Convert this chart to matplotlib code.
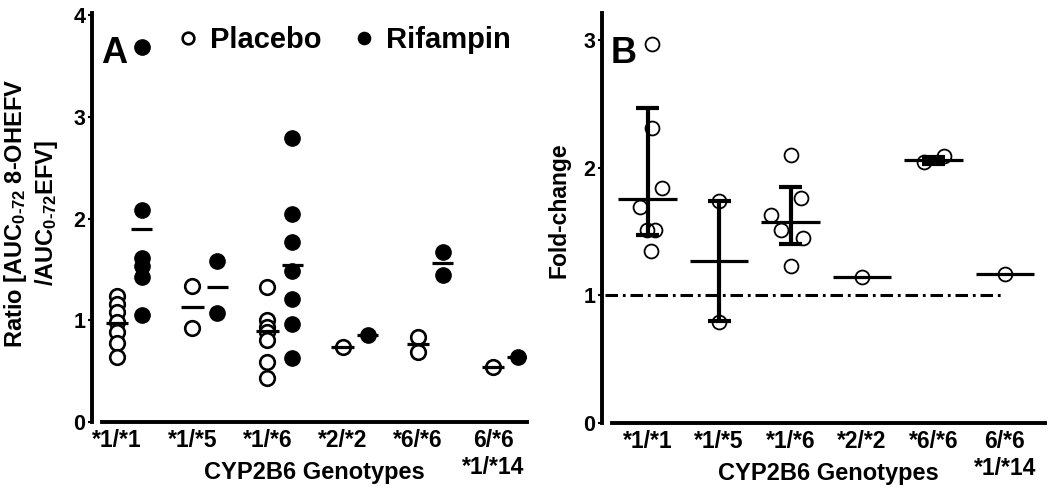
import numpy as np
import matplotlib
matplotlib.use("Agg")
import matplotlib.pyplot as plt

plt.rcParams['font.family'] = ['Liberation Sans', 'DejaVu Sans']
plt.rcParams['font.weight'] = 'bold'
plt.rcParams['axes.labelweight'] = 'bold'
plt.rcParams['mathtext.fontset'] = 'custom'
plt.rcParams['mathtext.rm'] = 'Liberation Sans:bold'
plt.rcParams['mathtext.bf'] = 'Liberation Sans:bold'
plt.rcParams['mathtext.default'] = 'bf'
plt.rcParams['lines.scale_dashes'] = False

genotypes = ['*1/*1', '*1/*5', '*1/*6', '*2/*2', '*6/*6', '6/*6\n*1/*14']

# Panel A: AUC ratio 8-OHEFV / EFV, each subject
placebo = [[1.24, 1.16, 1.08, 0.98, 0.88, 0.78, 0.64],
           [1.34, 0.92],
           [1.33, 1.00, 0.93, 0.88, 0.81, 0.59, 0.43],
           [0.74],
           [0.84, 0.69],
           [0.54]]
rifampin = [[3.69, 2.08, 1.61, 1.53, 1.43, 1.05],
            [1.58, 1.07],
            [2.79, 2.04, 1.77, 1.48, 1.21, 0.96, 0.63],
            [0.86],
            [1.67, 1.44],
            [0.64]]
placebo_mean = [0.97, 1.13, 0.89, 0.74, 0.77, 0.54]
rifampin_mean = [1.90, 1.33, 1.54, 0.86, 1.56, 0.64]

# Panel B: fold-change (rifampin / placebo)
fold_change = [[2.97, 2.31, 1.84, 1.69, 1.51, 1.51, 1.35],
               [1.74, 0.79],
               [2.10, 1.76, 1.63, 1.51, 1.45, 1.23],
               [1.14],
               [2.04, 2.09],
               [1.17]]
fold_jitter = [[0.06, 0.06, 0.20, -0.11, -0.01, 0.10, 0.04],
               [0.0, 0.0],
               [0.01, 0.15, -0.27, -0.13, 0.17, 0.01],
               [0.0],
               [-0.14, 0.15],
               [0.0]]
fold_median = [1.75, 1.27, 1.57, 1.14, 2.06, 1.17]
fold_lo = [1.47, 0.80, 1.40, np.nan, 2.03, np.nan]
fold_hi = [2.47, 1.74, 1.85, np.nan, 2.08, np.nan]

W, H = 1050, 494
fig = plt.figure(figsize=(W / 100, H / 100), dpi=100)
fig.patch.set_facecolor('white')


def px_rect(x0, x1, y_top, y_bot):
    return [x0 / W, (H - y_bot) / H, (x1 - x0) / W, (y_bot - y_top) / H]


def style_axes(ax):
    for s in ['top', 'right']:
        ax.spines[s].set_visible(False)
    ax.spines['left'].set_position(('outward', 7.5))
    ax.spines['left'].set_linewidth(2.8)
    ax.spines['bottom'].set_linewidth(2.8)
    ax.tick_params(axis='y', length=3, width=1.5, pad=1.5, labelsize=15.5)
    ax.tick_params(axis='x', length=0, pad=5, labelsize=16.5)
    ax.set_xticks(range(len(genotypes)))
    ax.set_xticklabels(genotypes, linespacing=1.2)
    ax.set_xlabel('CYP2B6 Genotypes', fontsize=17, fontweight='bold')


x = np.arange(len(genotypes))

# ---- panel A
axA = fig.add_axes(px_rect(102, 527, 13, 422))
style_axes(axA)
axA.set_xlim(-0.2, 5.45)
axA.set_ylim(0, 4.02)
axA.set_yticks([0, 1, 2, 3, 4])
off = 0.33
for i in range(len(genotypes)):
    hp, = axA.plot([x[i]] * len(placebo[i]), placebo[i], 'o', ms=10.5, mfc='white',
                   mec='black', mew=1.9, zorder=3)
    hr, = axA.plot([x[i] + off] * len(rifampin[i]), rifampin[i], 'o', ms=11,
                   color='black', zorder=3)
axA.hlines(placebo_mean, x - 0.15, x + 0.15, color='black', lw=2.3, zorder=4)
axA.hlines(rifampin_mean, x + off - 0.14, x + off + 0.14, color='black', lw=2.3, zorder=4)

axA.legend([hp, hr], ['Placebo', 'Rifampin'], ncol=2, frameon=False, fontsize=21,
           markerscale=0.8, handlelength=0.5, handletextpad=0.5, columnspacing=1.2,
           borderpad=0, borderaxespad=0, loc='center left',
           bbox_to_anchor=(181 / W, (H - 40) / H), bbox_transform=fig.transFigure)
fig.text(101 / W, (H - 63) / H, 'A', fontsize=26, fontweight='bold', va='baseline')
axA.xaxis.set_label_coords(0.5, -0.095)
axA.xaxis.label.set_va('top')
fig.text(31 / W, (H - 213) / H,
         'Ratio [AUC$_{0\\text{-}72}$ 8-OHEFV\n/AUC$_{0\\text{-}72}$EFV]',
         rotation=90, fontsize=17, ha='center', va='center', multialignment='center',
         linespacing=1.2)

# ---- panel B
axB = fig.add_axes(px_rect(612, 1045, 13, 423))
style_axes(axB)
axB.set_xlim(-0.5, 5.56)
axB.set_ylim(0, 3.21)
axB.set_yticks([0, 1, 2, 3])
for i in range(len(genotypes)):
    axB.plot(x[i] + np.array(fold_jitter[i]), fold_change[i], 'o', ms=10, mfc='none',
             mec='black', mew=1.3, zorder=3)
axB.hlines(fold_median, x - 0.41, x + 0.41, color='black', lw=2.3, zorder=4)
lo = np.array(fold_lo)
hi = np.array(fold_hi)
ok = ~np.isnan(lo)
axB.vlines(x[ok], lo[ok], hi[ok], color='black', lw=3, zorder=4)
axB.hlines(lo[ok], x[ok] - 0.16, x[ok] + 0.16, color='black', lw=3, zorder=4)
axB.hlines(hi[ok], x[ok] - 0.16, x[ok] + 0.16, color='black', lw=3, zorder=4)
axB.plot([-0.6, 4.97], [1, 1], color='black', lw=2.2, dashes=[9, 3.5, 2, 3.5],
         clip_on=False, zorder=2)
axB.xaxis.set_label_coords(0.5, -0.095)
axB.xaxis.label.set_va('top')
axB.set_ylabel('Fold-change', fontsize=16.5, fontweight='bold')
axB.yaxis.set_label_coords(-0.095, 0.52)
fig.text(611 / W, (H - 63) / H, 'B', fontsize=26, fontweight='bold', va='baseline')

fig.savefig('out.png', dpi=100, facecolor='white')
